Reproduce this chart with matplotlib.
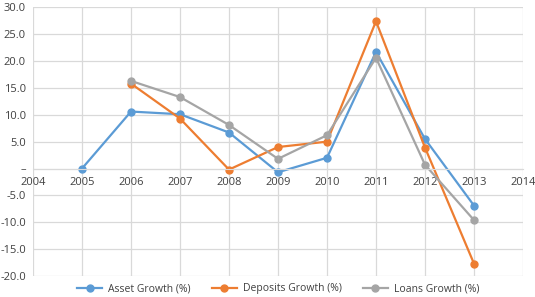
import matplotlib
matplotlib.use("Agg")
import matplotlib.pyplot as plt
from matplotlib.ticker import FuncFormatter

plt.rcParams['font.family'] = ['Open Sans', 'DejaVu Sans']

years = [2005, 2006, 2007, 2008, 2009, 2010, 2011, 2012, 2013]
asset = [0.0, 10.6, 10.1, 6.7, -0.7, 2.0, 21.7, 5.5, -6.9]
dep_years = [2006, 2007, 2008, 2009, 2010, 2011, 2012, 2013]
deposits = [15.8, 9.3, -0.2, 4.0, 5.0, 27.4, 3.9, -17.7]
loans = [16.3, 13.3, 8.1, 1.8, 6.2, 20.6, 0.7, -9.6]

fig = plt.figure(figsize=(5.35, 2.97), dpi=100)
ax = fig.add_axes([33/535, 1 - 276/297, 490/535, (276 - 7.3)/297])

ax.plot(years, asset, color='#5B9BD5', marker='o', ms=5, lw=1.6, label='Asset Growth (%)')
ax.plot(dep_years, deposits, color='#ED7D31', marker='o', ms=5, lw=1.6, label='Deposits Growth (%)')
ax.plot(dep_years, loans, color='#A5A5A5', marker='o', ms=5, lw=1.6, label='Loans Growth (%)')

ax.set_xlim(2004, 2014)
ax.set_ylim(-20, 30)
ax.set_xticks(range(2004, 2015))
ax.set_yticks(range(-20, 31, 5))
ax.yaxis.set_major_formatter(FuncFormatter(lambda v, p: '–' if v == 0 else f'{v:.1f}'))
ax.grid(True, color='#d9d9d9', lw=0.9)
ax.set_axisbelow(True)
for s in ['top', 'right', 'left']:
    ax.spines[s].set_visible(False)
ax.spines['bottom'].set_position(('data', 0))
ax.spines['bottom'].set_color('#d9d9d9')
ax.tick_params(length=0, labelsize=8, colors='#404040')
ax.tick_params(axis='y', pad=5)
ax.tick_params(axis='x', pad=6)

fig.legend(loc='center', bbox_to_anchor=(0.52, 0.028), ncol=3, frameon=False,
           fontsize=7.5, labelcolor='#404040', handlelength=2.4, handletextpad=0.6,
           columnspacing=2.0, borderpad=0)

fig.savefig('out.png', dpi=100)
